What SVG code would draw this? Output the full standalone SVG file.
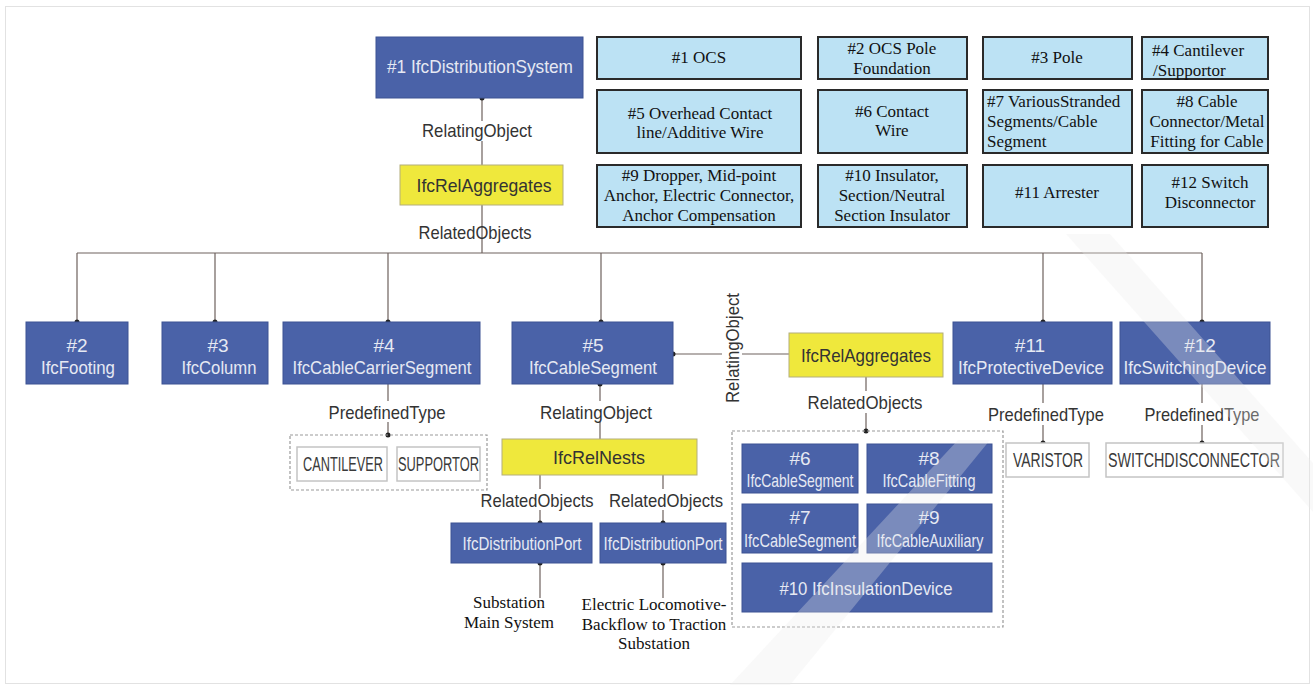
<svg xmlns="http://www.w3.org/2000/svg" width="1313" height="685" viewBox="0 0 1313 685">
  <defs>
    <style>
      .ent{fill:#4a62a8;stroke:#3d5393;stroke-width:1}
      .rel{fill:#efe83c;stroke:#b3ae7c;stroke-width:1}
      .enum{fill:#ffffff;stroke:#c4c4c4;stroke-width:1.5}
      .grp{fill:none;stroke:#9a9a9a;stroke-width:1.2;stroke-dasharray:3 2}
      .leg{fill:#bce2f4;stroke:#2a2a2a;stroke-width:2}
      .et{font-family:"Liberation Sans",Arial,sans-serif;font-size:19px;fill:#e6e9f3;text-anchor:middle}
      .lt{font-family:"Liberation Sans",Arial,sans-serif;font-size:19px;fill:#333333;text-anchor:middle}
      .ev{font-family:"Liberation Sans",Arial,sans-serif;font-size:13px;fill:#3a3a3a;text-anchor:middle}
      .st{font-family:"Liberation Serif","Times New Roman",serif;font-size:17px;fill:#111111;text-anchor:middle}
      .sl{font-family:"Liberation Serif","Times New Roman",serif;font-size:17px;fill:#111111;text-anchor:start}
      .wire{stroke:#6e625e;stroke-width:1.2;fill:none}
      .dot{fill:#222222}
      .wm{fill:#ececec;opacity:0.3}
    </style>
  </defs>

  <rect x="0" y="0" width="1313" height="685" fill="#ffffff"/>
  <rect x="5.5" y="6.5" width="1304" height="677" fill="none" stroke="#e2e2e2" stroke-width="1"/>

  <!-- legend: element numbers and what they stand for -->
  <g id="legend">
    <g id="leg1"><rect class="leg" x="597" y="37" width="204" height="42"/><text class="st" x="699" y="63">#1 OCS</text></g>
    <g id="leg2"><rect class="leg" x="818" y="37" width="149" height="42"/><text class="st" x="892" y="54">#2 OCS Pole</text><text class="st" x="892" y="74">Foundation</text></g>
    <g id="leg3"><rect class="leg" x="983" y="37" width="149" height="42"/><text class="st" x="1057" y="63">#3 Pole</text></g>
    <g id="leg4"><rect class="leg" x="1142" y="37" width="126" height="42"/><text class="sl" x="1152" y="56">#4 Cantilever</text><text class="sl" x="1153" y="76">/Supportor</text></g>
    <g id="leg5"><rect class="leg" x="597" y="90" width="204" height="63"/><text class="st" x="700" y="119">#5 Overhead Contact</text><text class="st" x="700" y="138">line/Additive Wire</text></g>
    <g id="leg6"><rect class="leg" x="818" y="90" width="149" height="63"/><text class="st" x="892" y="117">#6 Contact</text><text class="st" x="892" y="136">Wire</text></g>
    <g id="leg7"><rect class="leg" x="983" y="90" width="149" height="63"/><text class="sl" x="987" y="107">#7 VariousStranded</text><text class="sl" x="987" y="127">Segments/Cable</text><text class="sl" x="987" y="147">Segment</text></g>
    <g id="leg8"><rect class="leg" x="1142" y="90" width="126" height="63"/><text class="st" x="1207" y="107">#8 Cable</text><text class="st" x="1207" y="127">Connector/Metal</text><text class="st" x="1207" y="147">Fitting for Cable</text></g>
    <g id="leg9"><rect class="leg" x="597" y="165" width="204" height="62"/><text class="st" x="699" y="181">#9 Dropper, Mid-point</text><text class="st" x="699" y="201">Anchor, Electric Connector,</text><text class="st" x="699" y="221">Anchor Compensation</text></g>
    <g id="leg10"><rect class="leg" x="818" y="165" width="149" height="62"/><text class="st" x="892" y="181">#10 Insulator,</text><text class="st" x="892" y="201">Section/Neutral</text><text class="st" x="892" y="221">Section Insulator</text></g>
    <g id="leg11"><rect class="leg" x="983" y="165" width="149" height="62"/><text class="st" x="1057" y="198">#11 Arrester</text></g>
    <g id="leg12"><rect class="leg" x="1142" y="165" width="126" height="62"/><text class="st" x="1210" y="188">#12 Switch</text><text class="st" x="1210" y="208">Disconnector</text></g>
  </g>

  <!-- connectors and their role labels -->
  <g id="connectors">
    <path class="wire" d="M482 98V121M482 141V165M482 205V253M77 253H1202"/>
    <path class="wire" d="M77 253V322M215 253V322M388 253V322M601 253V322M1043 253V322M1202 253V322"/>
    <path class="wire" d="M388 384V401M388 422V435"/>
    <path class="wire" d="M600 384V401M600 422V439"/>
    <path class="wire" d="M673 354H722M742 354H789"/>
    <path class="wire" d="M866 377V391M866 413V431"/>
    <path class="wire" d="M540 475V489M540 510V523M663 475V489M663 510V523"/>
    <path class="wire" d="M540 563V598M663 563V598"/>
    <path class="wire" d="M1043 384V403M1043 425V443M1202 384V403M1202 425V443"/>
    <g class="dot">
      <circle cx="482" cy="98" r="2.5"/>
      <circle cx="77" cy="322" r="2.5"/><circle cx="215" cy="322" r="2.5"/><circle cx="388" cy="322" r="2.5"/>
      <circle cx="601" cy="322" r="2.5"/><circle cx="1043" cy="322" r="2.5"/><circle cx="1202" cy="322" r="2.5"/>
      <circle cx="388" cy="435" r="2.5"/><circle cx="600" cy="384" r="2.5"/>
      <circle cx="673" cy="354" r="2.5"/><circle cx="866" cy="431" r="2.5"/>
      <circle cx="540" cy="523" r="2.5"/><circle cx="663" cy="523" r="2.5"/>
      <circle cx="540" cy="563" r="2.5"/><circle cx="663" cy="563" r="2.5"/>
      <circle cx="1043" cy="443" r="2.5"/><circle cx="1202" cy="443" r="2.5"/>
    </g>
    <text class="lt" x="477" y="137" textLength="110" lengthAdjust="spacingAndGlyphs">RelatingObject</text>
    <text class="lt" x="475" y="239" textLength="113" lengthAdjust="spacingAndGlyphs">RelatedObjects</text>
    <text class="lt" x="387" y="419" textLength="117" lengthAdjust="spacingAndGlyphs">PredefinedType</text>
    <text class="lt" x="596" y="419" textLength="112" lengthAdjust="spacingAndGlyphs">RelatingObject</text>
    <text class="lt" transform="translate(739 348) rotate(-90)" textLength="110" lengthAdjust="spacingAndGlyphs">RelatingObject</text>
    <text class="lt" x="865" y="409" textLength="115" lengthAdjust="spacingAndGlyphs">RelatedObjects</text>
    <text class="lt" x="537" y="507" textLength="113" lengthAdjust="spacingAndGlyphs">RelatedObjects</text>
    <text class="lt" x="666" y="507" textLength="114" lengthAdjust="spacingAndGlyphs">RelatedObjects</text>
    <text class="lt" x="1046" y="421" textLength="116" lengthAdjust="spacingAndGlyphs">PredefinedType</text>
    <text class="lt" x="1202" y="421" textLength="115" lengthAdjust="spacingAndGlyphs">PredefinedType</text>
  </g>

  <!-- IFC entities -->
  <g id="n1"><rect class="ent" x="376" y="37" width="207" height="61"/><text class="et" x="480" y="73" textLength="186" lengthAdjust="spacingAndGlyphs">#1 IfcDistributionSystem</text></g>
  <g id="agg1"><rect class="rel" x="400" y="165" width="163" height="40"/><text class="lt" x="484" y="192" textLength="135" lengthAdjust="spacingAndGlyphs">IfcRelAggregates</text></g>

  <g id="n2"><rect class="ent" x="26" y="322" width="102" height="62"/><text class="et" x="77" y="352">#2</text><text class="et" x="78" y="374" textLength="74" lengthAdjust="spacingAndGlyphs">IfcFooting</text></g>
  <g id="n3"><rect class="ent" x="162" y="322" width="106" height="62"/><text class="et" x="218" y="352">#3</text><text class="et" x="219" y="374" textLength="75" lengthAdjust="spacingAndGlyphs">IfcColumn</text></g>
  <g id="n4"><rect class="ent" x="283" y="322" width="197" height="62"/><text class="et" x="384" y="352">#4</text><text class="et" x="382" y="374" textLength="179" lengthAdjust="spacingAndGlyphs">IfcCableCarrierSegment</text></g>
  <g id="n5"><rect class="ent" x="512" y="322" width="161" height="62"/><text class="et" x="593" y="352">#5</text><text class="et" x="593" y="374" textLength="128" lengthAdjust="spacingAndGlyphs">IfcCableSegment</text></g>
  <g id="n11"><rect class="ent" x="953" y="322" width="159" height="62"/><text class="et" x="1030" y="352">#11</text><text class="et" x="1031" y="374" textLength="146" lengthAdjust="spacingAndGlyphs">IfcProtectiveDevice</text></g>
  <g id="n12"><rect class="ent" x="1120" y="322" width="150" height="62"/><text class="et" x="1200" y="352">#12</text><text class="et" x="1195" y="374" textLength="143" lengthAdjust="spacingAndGlyphs">IfcSwitchingDevice</text></g>

  <g id="types4">
    <rect class="grp" x="290" y="435" width="197" height="55"/>
    <rect class="enum" x="297" y="447" width="90" height="34"/><text class="ev" transform="translate(343 471) scale(1 1.6)" textLength="80" lengthAdjust="spacingAndGlyphs">CANTILEVER</text>
    <rect class="enum" x="397" y="447" width="83" height="34"/><text class="ev" transform="translate(438.5 471) scale(1 1.6)" textLength="81" lengthAdjust="spacingAndGlyphs">SUPPORTOR</text>
  </g>

  <g id="nests"><rect class="rel" x="502" y="439" width="195" height="36"/><text class="lt" x="599" y="464" textLength="92" lengthAdjust="spacingAndGlyphs">IfcRelNests</text></g>
  <g id="port1"><rect class="ent" x="451" y="523" width="141" height="40"/><text class="et" x="522" y="550" textLength="119" lengthAdjust="spacingAndGlyphs">IfcDistributionPort</text></g>
  <g id="port2"><rect class="ent" x="600" y="523" width="126" height="40"/><text class="et" x="663" y="550" textLength="119" lengthAdjust="spacingAndGlyphs">IfcDistributionPort</text></g>
  <g id="sink1"><text class="st" x="509" y="608">Substation</text><text class="st" x="509" y="628">Main System</text></g>
  <g id="sink2"><text class="st" x="654" y="610">Electric Locomotive-</text><text class="st" x="654" y="630">Backflow to Traction</text><text class="st" x="654" y="649">Substation</text></g>

  <g id="agg2"><rect class="rel" x="789" y="333" width="154" height="44"/><text class="lt" x="866" y="362" textLength="130" lengthAdjust="spacingAndGlyphs">IfcRelAggregates</text></g>

  <g id="parts5">
    <rect class="grp" x="732" y="431" width="271" height="196"/>
    <g id="n6"><rect class="ent" x="742" y="444" width="116" height="49"/><text class="et" x="800" y="465">#6</text><text class="et" x="800" y="487" textLength="107" lengthAdjust="spacingAndGlyphs">IfcCableSegment</text></g>
    <g id="n8"><rect class="ent" x="867" y="444" width="125" height="49"/><text class="et" x="929" y="465">#8</text><text class="et" x="929" y="487" textLength="93" lengthAdjust="spacingAndGlyphs">IfcCableFitting</text></g>
    <g id="n7"><rect class="ent" x="742" y="504" width="116" height="49"/><text class="et" x="800" y="524">#7</text><text class="et" x="800" y="547" textLength="112" lengthAdjust="spacingAndGlyphs">IfcCableSegment</text></g>
    <g id="n9"><rect class="ent" x="867" y="504" width="125" height="49"/><text class="et" x="929" y="524">#9</text><text class="et" x="930" y="547" textLength="107" lengthAdjust="spacingAndGlyphs">IfcCableAuxiliary</text></g>
    <g id="n10"><rect class="ent" x="742" y="563" width="250" height="49"/><text class="et" x="866" y="595" textLength="173" lengthAdjust="spacingAndGlyphs">#10 IfcInsulationDevice</text></g>
  </g>

  <g id="types11"><rect class="enum" x="1006" y="443" width="83" height="34"/><text class="ev" transform="translate(1048 467) scale(1 1.6)" textLength="70" lengthAdjust="spacingAndGlyphs">VARISTOR</text></g>
  <g id="types12"><rect class="enum" x="1106" y="443" width="177" height="34"/><text class="ev" transform="translate(1194 467) scale(1 1.6)" textLength="172" lengthAdjust="spacingAndGlyphs">SWITCHDISCONNECTOR</text></g>

  <!-- faint background strokes laid over the lower right -->
  <g id="watermark" class="wm">
    <path d="M1066 234L1110 234L1313 463L1313 512Z"/>
    <path d="M958 440L990 440L790 685L730 685Z"/>
  </g>
</svg>
